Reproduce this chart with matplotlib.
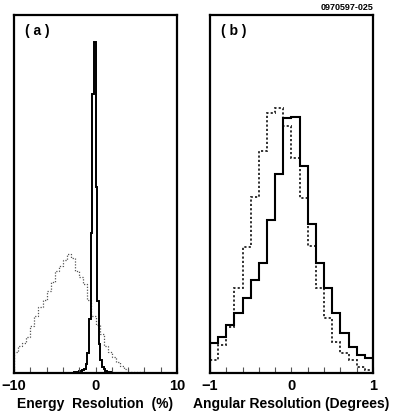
import numpy as np
import matplotlib
matplotlib.use("Agg")
import matplotlib.pyplot as plt

plt.rcParams['font.family'] = ['Liberation Sans', 'DejaVu Sans']

# (a) energy resolution, solid: narrow peak, bins of 0.2 %
energy_solid_edges = np.round(np.arange(-2.6, 2.61, 0.2), 2)
energy_solid = [2, 3, 4, 5, 6, 8, 12, 25, 55, 150, 390, 780, 925,
                520, 200, 80, 35, 18, 10, 6, 4, 3, 2, 1, 1, 0]
# (a) energy resolution, dotted: broad, bins of 0.5 %
energy_dot_edges = np.arange(-10, 10.01, 0.5)
energy_dot = [58, 75, 85, 100, 130, 160, 185, 205, 230, 255,
              285, 300, 315, 332, 320, 285, 268, 250, 205, 160,
              135, 110, 75, 58, 45, 32, 20, 10, 4, 3,
              2, 2, 1, 1, 0, 0, 0, 0, 0, 0]

# (b) angular resolution, bins of 0.1 degree
angle_edges = np.round(np.arange(-1, 1.01, 0.1), 2)
angle_solid = [84, 101, 134, 168, 209, 260, 307, 427, 557, 712,
               714, 577, 415, 307, 237, 168, 112, 73, 50, 42]
angle_dot = [36, 78, 128, 237, 352, 492, 621, 727, 740, 690,
             600, 489, 355, 237, 154, 87, 56, 36, 17, 8]

energy_ticks = [-10, -8, -6, -4, -2, 0, 2, 4, 6, 8, 10]
energy_labels = ['\u221210', '', '', '', '', '0', '', '', '', '', '10']
angle_ticks = [-1, -0.8, -0.6, -0.4, -0.2, 0, 0.2, 0.4, 0.6, 0.8, 1]
angle_labels = ['\u22121', '', '', '', '', '0', '', '', '', '', '1']

W, H = 395, 415
fig = plt.figure(figsize=(W / 100, H / 100), dpi=100)

def make_axes(x0, x1):
    return fig.add_axes([x0 / W, 1 - 373 / H, (x1 - x0) / W, (373 - 15) / H])

ax1 = make_axes(14, 177)
ax2 = make_axes(210, 373)

ax1.stairs(energy_dot, energy_dot_edges, color='#555555', lw=0.9,
           linestyle=(0, (1, 1.3)))
ax1.stairs(energy_solid, energy_solid_edges, color='black', lw=1.4)
ax2.stairs(angle_dot, angle_edges, color='#222222', lw=1.3,
           linestyle=(0, (1.2, 1.2)))
ax2.stairs(angle_solid, angle_edges, color='black', lw=1.5)

for ax, lim, ticks, labels, xlabel, tag in [
        (ax1, 10, energy_ticks, energy_labels,
         'Energy  Resolution  (%)', '( a )'),
        (ax2, 1, angle_ticks, angle_labels,
         'Angular Resolution (Degrees)', '( b )')]:
    ax.set_xlim(-lim, lim)
    ax.set_ylim(0, 1000)
    ax.set_xticks(ticks)
    ax.set_xticklabels(labels, fontsize=10.5, fontweight='bold')
    ax.tick_params(axis='x', direction='in', length=4, width=0.8,
                   color='#555555', pad=4)
    ax.set_yticks([])
    ax.set_xlabel(xlabel, fontsize=10, fontweight='bold', labelpad=3)
    for s in ax.spines.values():
        s.set_linewidth(1.6)
    ax.text(0.07, 0.955, tag, transform=ax.transAxes, fontsize=10,
            fontweight='bold', va='center', ha='left')

fig.text(373 / W, 1 - 7 / H, '0970597-025', fontsize=6.5,
         fontweight='bold', ha='right', va='center')

fig.savefig('out.png', dpi=100)
